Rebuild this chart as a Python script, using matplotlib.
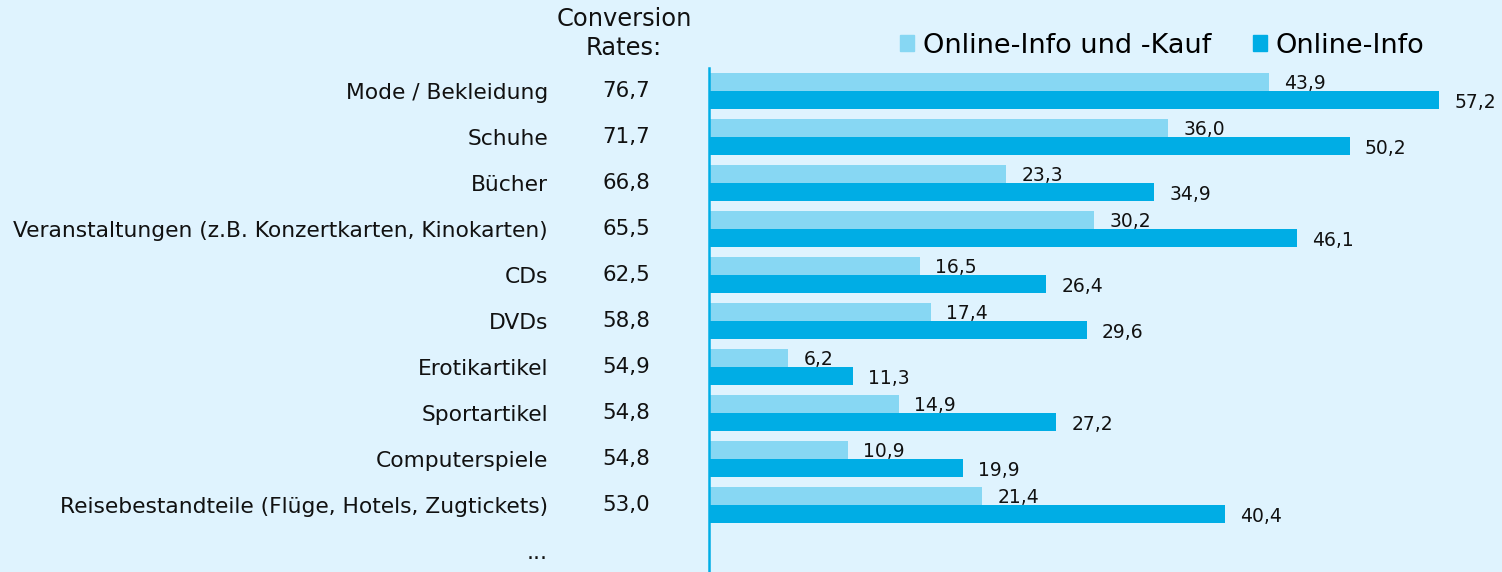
import matplotlib.pyplot as plt
import matplotlib.transforms as mtransforms
from matplotlib.patches import Patch
import numpy as np

categories = ['Mode / Bekleidung', 'Schuhe', 'Bücher',
              'Veranstaltungen (z.B. Konzertkarten, Kinokarten)', 'CDs', 'DVDs',
              'Erotikartikel', 'Sportartikel', 'Computerspiele',
              'Reisebestandteile (Flüge, Hotels, Zugtickets)']
conversion = [76.7, 71.7, 66.8, 65.5, 62.5, 58.8, 54.9, 54.8, 54.8, 53.0]
info_kauf = [43.9, 36.0, 23.3, 30.2, 16.5, 17.4, 6.2, 14.9, 10.9, 21.4]
info = [57.2, 50.2, 34.9, 46.1, 26.4, 29.6, 11.3, 27.2, 19.9, 40.4]

bg = '#dff3fe'
light = '#87d7f3'
dark = '#00ade5'

def de(v):
    return '{:.1f}'.format(v).replace('.', ',')

W, H = 1502, 572
fig = plt.figure(figsize=(W / 100, H / 100), dpi=100, facecolor=bg)
ax = fig.add_axes([709 / W, 0, 1 - 709 / W, 1 - 68 / H])
ax.set_facecolor(bg)

y = np.arange(len(categories))
h = 0.39
ax.barh(y - 0.196, info_kauf, height=h, color=light, edgecolor='none')
ax.barh(y + 0.196, info, height=h, color=dark, edgecolor='none')

for i in range(len(categories)):
    ax.annotate(de(info_kauf[i]), (info_kauf[i], y[i] - 0.17), xytext=(11, 0),
                textcoords='offset points', va='center', ha='left', fontsize=13.5, color='#111111')
    ax.annotate(de(info[i]), (info[i], y[i] + 0.24), xytext=(11, 0),
                textcoords='offset points', va='center', ha='left', fontsize=13.5, color='#111111')

ax.set_xlim(0, (W - 709) / 12.76)
ax.set_ylim(-0.5 + (H - 68) / 46, -0.5)

ax.set_yticks(list(y) + [len(categories)])
ax.set_yticklabels(categories + ['...'], fontsize=15.7, color='#111111')
ax.tick_params(axis='y', length=0, pad=116)
ax.set_xticks([])
for s in ['top', 'right', 'bottom']:
    ax.spines[s].set_visible(False)
ax.spines['left'].set_color(dark)
ax.spines['left'].set_linewidth(1.8)

# conversion rates column
tr = mtransforms.blended_transform_factory(fig.transFigure, ax.transData)
for i, c in enumerate(conversion):
    ax.text(626 / W, y[i], de(c), transform=tr, ha='center', va='center',
            fontsize=15.4, color='#111111')
fig.text(624 / W, 1 - 19 / H, 'Conversion', ha='center', va='center', fontsize=17.4, color='#111111')
fig.text(624 / W, 1 - 48 / H, 'Rates:', ha='center', va='center', fontsize=17.4, color='#111111')

handles = [Patch(color=light, label='Online-Info und -Kauf'),
           Patch(color=dark, label='Online-Info')]
fig.legend(handles=handles, loc='center right', bbox_to_anchor=(1424 / W, 1 - 46 / H),
           ncol=2, frameon=False, fontsize=19.5, handlelength=0.53, handleheight=0.53,
           handletextpad=0.3, columnspacing=1.55, borderpad=0, borderaxespad=0)

fig.savefig('out.png', dpi=100, facecolor=bg)
